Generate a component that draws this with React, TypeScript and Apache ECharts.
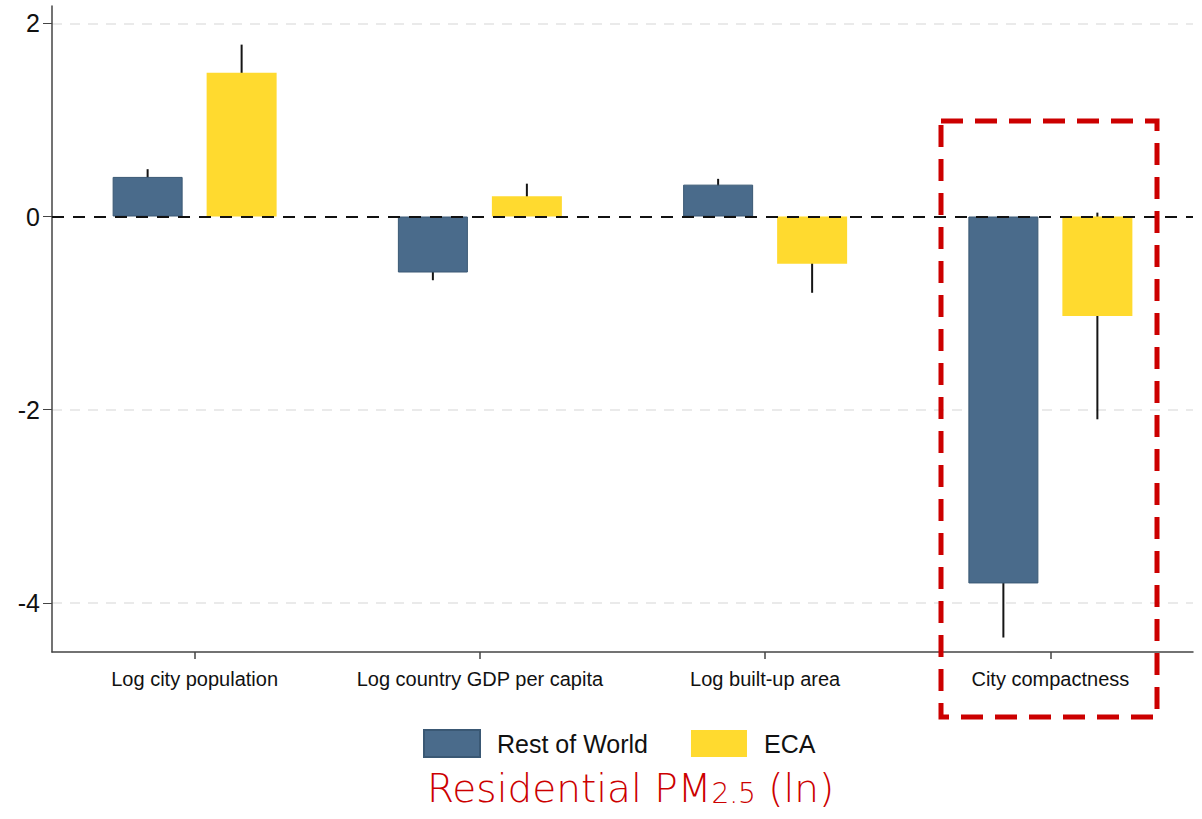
import React, { useEffect, useRef } from "react";
import * as echarts from "echarts";

const categories = ["Log city population", "Log country GDP per capita", "Log built-up area", "City compactness"];
const restOfWorld = [0.41, -0.58, 0.33, -3.80];
const restOfWorldLow = [0.33, -0.66, 0.27, -4.36];
const restOfWorldHigh = [0.49, -0.50, 0.39, -3.24];
const eca = [1.49, 0.21, -0.49, -1.03];
const ecaLow = [1.20, 0.08, -0.79, -2.10];
const ecaHigh = [1.78, 0.34, -0.19, 0.04];
const yTicks = [-4, -2, 0, 2];
const gridValues = [-4, -2, 2];

const BAR_W = 70;
const BAR_GAP = 24;

export default function App() {
  const ref = useRef<HTMLDivElement>(null);
  useEffect(() => {
    if (!ref.current) return;
    const chart = echarts.init(ref.current, null, { renderer: "svg" });
    const font = "'Liberation Sans', Arial, sans-serif";
    const titleFont = "'DejaVu Sans', sans-serif";
    const errData = (lo: number[], hi: number[]) => lo.map((l, i) => [i, l, hi[i]]);
    const errSeries = (name: string, lo: number[], hi: number[], side: number) => ({
      type: "custom",
      name: name + " CI",
      z: 1,
      silent: true,
      data: errData(lo, hi),
      renderItem: (params: any, api: any) => {
        const i = api.value(0);
        const a = api.coord([i, api.value(1)]);
        const b = api.coord([i, api.value(2)]);
        const off = side * (BAR_W + BAR_GAP) / 2;
        return {
          type: "line",
          shape: { x1: a[0] + off, y1: a[1], x2: b[0] + off, y2: b[1] },
          style: { stroke: "#151515", lineWidth: 2 },
        };
      },
    });
    chart.setOption({
      animation: false,
      backgroundColor: "#ffffff",
      grid: { left: 52, right: 9, top: 6, bottom: 167, containLabel: false },
      legend: {
        left: 418,
        top: 724,
        itemWidth: 56,
        itemHeight: 27,
        itemGap: 43,
        icon: "rect",
        data: ["Rest of World", "ECA"],
        textStyle: { fontSize: 25, color: "#111", fontFamily: font, padding: [0, 0, 0, 12] },
      },
      xAxis: {
        type: "category",
        data: categories,
        axisLine: { onZero: false, lineStyle: { color: "#444", width: 1.5 } },
        axisTick: { show: true, alignWithLabel: true, interval: 0, length: 7, lineStyle: { color: "#444", width: 1.5 } },
        axisLabel: { interval: 0, fontSize: 20, color: "#111", margin: 17, fontFamily: font },
        splitLine: { show: false },
      },
      yAxis: {
        type: "value",
        min: -4.51,
        max: 2.18,
        axisLine: { show: true, lineStyle: { color: "#444", width: 1.5 } },
        axisTick: { show: true, length: 9, customValues: yTicks, lineStyle: { color: "#444" } },
        axisLabel: { fontSize: 25, color: "#111", margin: 12, fontFamily: font, customValues: yTicks },
        splitLine: { show: false },
      },
      series: [
        {
          type: "bar",
          name: "Rest of World",
          data: restOfWorld,
          barWidth: BAR_W,
          barGap: (BAR_GAP / BAR_W) * 100 + "%",
          z: 2,
          itemStyle: { color: "#4a6b8b", borderColor: "#3a5874", borderWidth: 1 },
          markLine: {
            silent: true,
            symbol: "none",
            label: { show: false },
            data: gridValues.map((v) => ({ yAxis: v })),
            lineStyle: { color: "#e4e4e4", type: [10, 8], width: 1.5 },
            z: 0,
          },
        },
        {
          type: "bar",
          name: "ECA",
          data: eca,
          barWidth: BAR_W,
          z: 2,
          itemStyle: { color: "#ffda2f" },
          markLine: {
            silent: true,
            symbol: "none",
            label: { show: false },
            data: [{ yAxis: 0 }],
            lineStyle: { color: "#111", type: [12, 9], width: 2 },
            z: 5,
          },
        },
        errSeries("Rest of World", restOfWorldLow, restOfWorldHigh, -1),
        errSeries("ECA", ecaLow, ecaHigh, 1),
      ],
      graphic: [
        {
          type: "rect",
          shape: { x: 941, y: 121, width: 216, height: 596 },
          style: { fill: "none", stroke: "#cc0000", lineWidth: 5, lineDash: [22, 12] },
          z: 10,
        },
        {
          type: "text",
          left: 427,
          top: 769,
          style: {
            text: "{a|Residential PM}{b|2.5}{a| (ln)}",
            fill: "#cc0000",
            rich: {
              a: { fontSize: 39, fontWeight: 300, fontFamily: titleFont, fill: "#cc0000", verticalAlign: "bottom", lineHeight: 46 },
              b: { fontSize: 28, fontWeight: 300, fontFamily: titleFont, fill: "#cc0000", verticalAlign: "bottom", lineHeight: 46, padding: [0, 0, 1, 0] },
            },
          },
        },
      ],
    });
    return () => chart.dispose();
  }, []);
  return <div ref={ref} style={{ position: "fixed", left: 0, top: 0, width: 1202, height: 819 }} />;
}
